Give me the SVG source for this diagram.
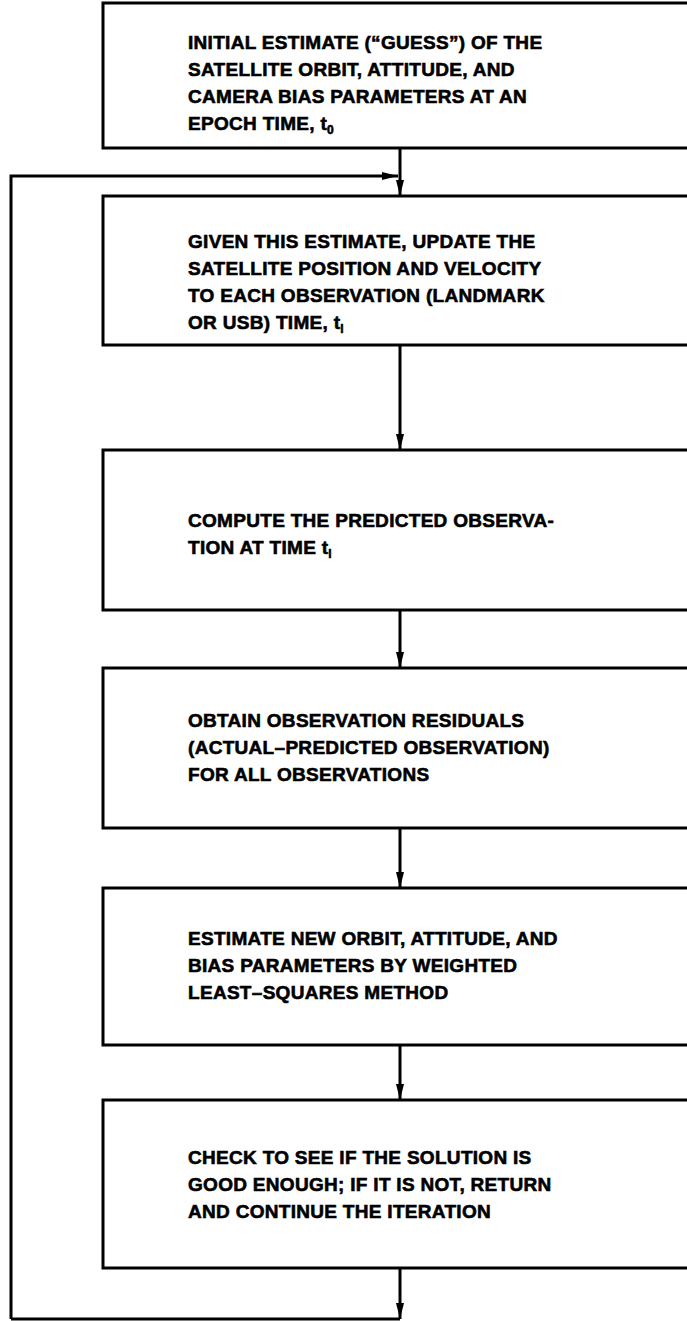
<svg xmlns="http://www.w3.org/2000/svg" width="687" height="1321" viewBox="0 0 687 1321">
<style>
.box{fill:#fff;stroke:#000;stroke-width:3}
.ln{fill:none;stroke:#000;stroke-width:3}
.t{font-family:"Liberation Sans",Arial,sans-serif;font-weight:bold;font-size:19px;letter-spacing:0.3px;fill:#000;stroke:#000;stroke-width:0.6}
.sub{font-size:12px}
</style>
<defs>
<marker id="ah" viewBox="0 0 16 8" refX="16" refY="4" markerWidth="16" markerHeight="8" markerUnits="userSpaceOnUse" orient="auto">
<path d="M0,0 L16,4 L0,8 Z" fill="#000"/>
</marker>
</defs>
<rect width="687" height="1321" fill="#fff"/>
<g id="connectors">
<path class="ln" d="M400,148 V196" marker-end="url(#ah)"/>
<path class="ln" d="M11,1319 V176 H398" marker-end="url(#ah)"/>
<path class="ln" d="M400,345 V450" marker-end="url(#ah)"/>
<path class="ln" d="M400,610 V668" marker-end="url(#ah)"/>
<path class="ln" d="M400,828 V888" marker-end="url(#ah)"/>
<path class="ln" d="M400,1045 V1100" marker-end="url(#ah)"/>
<path class="ln" d="M400,1268 V1319" marker-end="url(#ah)"/>
<path class="ln" d="M11,1319 H400"/>
</g>
<g id="n1">
<rect class="box" x="103" y="3" width="600" height="145"/>
<text class="t" x="188" y="49">INITIAL ESTIMATE (“GUESS”) OF THE</text>
<text class="t" x="188" y="76">SATELLITE ORBIT, ATTITUDE, AND</text>
<text class="t" x="188" y="103">CAMERA BIAS PARAMETERS AT AN</text>
<text class="t" x="188" y="130">EPOCH TIME, t<tspan class="sub" dy="4">0</tspan></text>
</g>
<g id="n2">
<rect class="box" x="103" y="196" width="600" height="149"/>
<text class="t" x="188" y="248">GIVEN THIS ESTIMATE, UPDATE THE</text>
<text class="t" x="188" y="275">SATELLITE POSITION AND VELOCITY</text>
<text class="t" x="188" y="302">TO EACH OBSERVATION (LANDMARK</text>
<text class="t" x="188" y="329">OR USB) TIME, t<tspan class="sub" dy="4">i</tspan></text>
</g>
<g id="n3">
<rect class="box" x="103" y="450" width="600" height="160"/>
<text class="t" x="188" y="527">COMPUTE THE PREDICTED OBSERVA-</text>
<text class="t" x="188" y="554">TION AT TIME t<tspan class="sub" dy="4">i</tspan></text>
</g>
<g id="n4">
<rect class="box" x="103" y="668" width="600" height="160"/>
<text class="t" x="188" y="727">OBTAIN OBSERVATION RESIDUALS</text>
<text class="t" x="188" y="754">(ACTUAL–PREDICTED OBSERVATION)</text>
<text class="t" x="188" y="781">FOR ALL OBSERVATIONS</text>
</g>
<g id="n5">
<rect class="box" x="103" y="888" width="600" height="157"/>
<text class="t" x="188" y="945">ESTIMATE NEW ORBIT, ATTITUDE, AND</text>
<text class="t" x="188" y="972">BIAS PARAMETERS BY WEIGHTED</text>
<text class="t" x="188" y="999">LEAST–SQUARES METHOD</text>
</g>
<g id="n6">
<rect class="box" x="103" y="1100" width="600" height="168"/>
<text class="t" x="188" y="1164">CHECK TO SEE IF THE SOLUTION IS</text>
<text class="t" x="188" y="1191">GOOD ENOUGH; IF IT IS NOT, RETURN</text>
<text class="t" x="188" y="1218">AND CONTINUE THE ITERATION</text>
</g>
</svg>
